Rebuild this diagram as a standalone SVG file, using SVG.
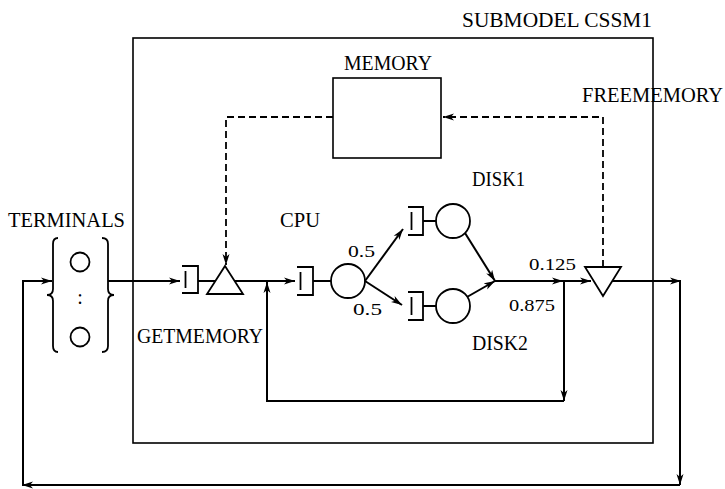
<svg xmlns="http://www.w3.org/2000/svg" width="725" height="489" viewBox="0 0 725 489">
<defs>
<marker id="ah" markerUnits="userSpaceOnUse" markerWidth="12" markerHeight="8" refX="11" refY="4" orient="auto">
<path d="M0,0.5 L11,4 L0,7.5 L3,4 z" fill="#000"/>
</marker>
</defs>
<style>
text{font-family:"Liberation Serif","DejaVu Serif",serif;font-size:20px;fill:#000}
.num{font-size:17px}
.ln{fill:none;stroke:#000;stroke-width:2}
.bd{fill:none;stroke:#000;stroke-width:1.6}
.dash{fill:none;stroke:#000;stroke-width:1.8;stroke-dasharray:7 4}
.q{fill:none;stroke:#000;stroke-width:1.8}
.c{fill:#fff;stroke:#000;stroke-width:1.8}
</style>
<rect width="725" height="489" fill="#fff"/>

<g id="submodel">
<rect class="bd" x="133" y="38" width="520" height="405"/>
<text x="462" y="27" textLength="190" lengthAdjust="spacingAndGlyphs">SUBMODEL CSSM1</text>
</g>

<g id="memory">
<rect class="bd" x="333" y="78" width="108" height="80" fill="#fff"/>
<text x="344" y="70" textLength="88" lengthAdjust="spacingAndGlyphs">MEMORY</text>
</g>

<g id="terminals">
<text x="8" y="227" textLength="117" lengthAdjust="spacingAndGlyphs">TERMINALS</text>
<path class="q" d="M58,238 Q53,238 53,244 V289 Q53,295 47,295 Q53,295 53,301 V346 Q53,352 58,352"/>
<path class="q" d="M102,238 Q108,238 108,244 V289 Q108,295 114,295 Q108,295 108,301 V346 Q108,352 102,352"/>
<circle class="c" cx="80" cy="262" r="9.5"/>
<text x="80" y="304" text-anchor="middle">:</text>
<circle class="c" cx="80" cy="337" r="9.5"/>
</g>

<g id="getmemory">
<path class="q" d="M182,266 H198 V293 H182"/>
<line class="q" x1="185.5" y1="271" x2="185.5" y2="288"/>
<line class="ln" x1="198" y1="281" x2="216" y2="281"/>
<path class="c" d="M225,266 L243,294 L207,294 z"/>
<text x="137" y="343" textLength="126" lengthAdjust="spacingAndGlyphs">GETMEMORY</text>
</g>

<g id="cpu">
<path class="q" d="M297,267 H313 V295 H297"/>
<line class="q" x1="300.5" y1="272" x2="300.5" y2="290"/>
<line class="ln" x1="313" y1="281" x2="331" y2="281"/>
<circle class="c" cx="348" cy="281" r="17"/>
<text x="280" y="227" textLength="40" lengthAdjust="spacingAndGlyphs">CPU</text>
</g>

<g id="disk1">
<path class="q" d="M408,207 H423 V235 H408"/>
<line class="q" x1="411.5" y1="212" x2="411.5" y2="230"/>
<line class="ln" x1="423" y1="221" x2="436" y2="221"/>
<circle class="c" cx="453" cy="221" r="17"/>
<text x="472" y="186" textLength="53" lengthAdjust="spacingAndGlyphs">DISK1</text>
</g>

<g id="disk2">
<path class="q" d="M408,292 H423 V320 H408"/>
<line class="q" x1="411.5" y1="297" x2="411.5" y2="315"/>
<line class="ln" x1="423" y1="306" x2="436" y2="306"/>
<circle class="c" cx="453" cy="306" r="17"/>
<text x="472" y="350" textLength="56" lengthAdjust="spacingAndGlyphs">DISK2</text>
</g>

<g id="freememory">
<path class="c" d="M585,267 L621,267 L603,296 z"/>
<text x="582" y="102" textLength="141" lengthAdjust="spacingAndGlyphs">FREEMEMORY</text>
</g>

<g id="connectors">
<polyline class="ln" points="23,485 23,281 52,281" marker-end="url(#ah)"/>
<line class="ln" x1="108" y1="281" x2="180" y2="281" marker-end="url(#ah)"/>
<line class="ln" x1="235" y1="281" x2="295" y2="281" marker-end="url(#ah)"/>
<line class="ln" x1="365" y1="281" x2="403" y2="229" marker-end="url(#ah)"/>
<line class="ln" x1="365" y1="281" x2="402" y2="305" marker-end="url(#ah)"/>
<line class="ln" x1="465" y1="233" x2="495" y2="281" marker-end="url(#ah)"/>
<line class="ln" x1="467" y1="297" x2="495" y2="281" marker-end="url(#ah)"/>
<line class="ln" x1="495" y1="281" x2="563" y2="281" marker-end="url(#ah)"/>
<line class="ln" x1="563" y1="281" x2="591" y2="281" marker-end="url(#ah)"/>
<polyline class="ln" points="564,281 564,401" marker-end="url(#ah)"/>
<polyline class="ln" points="564,401 267,401 267,282" marker-end="url(#ah)"/>
<line class="ln" x1="612" y1="281" x2="681" y2="281" marker-end="url(#ah)"/>
<line class="ln" x1="680" y1="281" x2="680" y2="485" marker-end="url(#ah)"/>
<line class="ln" x1="680" y1="485" x2="22" y2="485" marker-end="url(#ah)"/>
<polyline class="dash" points="603,267 603,117 443,117" marker-end="url(#ah)"/>
<polyline class="dash" points="333,117 226,117 226,265" marker-end="url(#ah)"/>
<text class="num" x="348" y="257" textLength="27" lengthAdjust="spacingAndGlyphs">0.5</text>
<text class="num" x="353" y="315" textLength="29" lengthAdjust="spacingAndGlyphs">0.5</text>
<text class="num" x="529" y="270" textLength="47" lengthAdjust="spacingAndGlyphs">0.125</text>
<text class="num" x="509" y="311" textLength="46" lengthAdjust="spacingAndGlyphs">0.875</text>
</g>
</svg>
